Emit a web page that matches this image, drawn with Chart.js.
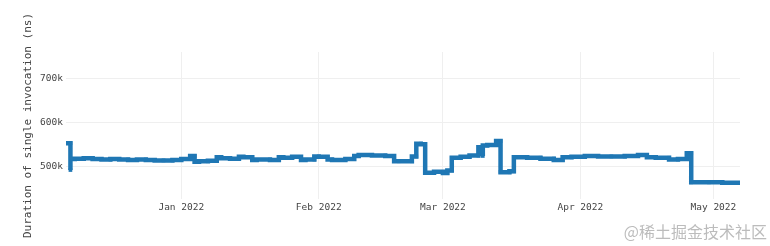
<!DOCTYPE html>
<html>
<head>
<meta charset="utf-8">
<script src="https://cdn.jsdelivr.net/npm/chart.js@4.4.1/dist/chart.umd.min.js"></script>
<style>
  html, body { margin: 0; padding: 0; background: #fff; }
  canvas { display: block; }
</style>
</head>
<body>
<canvas id="line-canvas" width="770" height="246"></canvas>
<script>
// measurement dates (repeated dates = a jump on that day)
var dates = [
  '2021-12-06','2021-12-07','2021-12-07','2021-12-08','2021-12-10','2021-12-12','2021-12-14',
  '2021-12-16','2021-12-18','2021-12-20','2021-12-22','2021-12-24','2021-12-26','2021-12-28',
  '2021-12-30','2022-01-01','2022-01-03','2022-01-04','2022-01-05','2022-01-07','2022-01-09',
  '2022-01-10','2022-01-12','2022-01-14','2022-01-15','2022-01-17','2022-01-18','2022-01-21',
  '2022-01-23','2022-01-24','2022-01-26','2022-01-28','2022-01-29','2022-01-31','2022-02-01',
  '2022-02-03','2022-02-04','2022-02-07','2022-02-09','2022-02-10','2022-02-13','2022-02-16',
  '2022-02-18','2022-02-19','2022-02-22','2022-02-23','2022-02-24','2022-02-25','2022-02-25',
  '2022-02-27','2022-03-01','2022-03-02','2022-03-03','2022-03-03','2022-03-05','2022-03-07',
  '2022-03-09','2022-03-10','2022-03-10','2022-03-11','2022-03-13','2022-03-14','2022-03-14',
  '2022-03-16','2022-03-17','2022-03-17','2022-03-20','2022-03-23','2022-03-26','2022-03-28',
  '2022-03-30','2022-04-02','2022-04-05','2022-04-08','2022-04-11','2022-04-14','2022-04-16',
  '2022-04-18','2022-04-21','2022-04-23','2022-04-25','2022-04-25','2022-04-26','2022-04-26',
  '2022-04-30','2022-05-03','2022-05-07'
];
// duration of single invocation, ns
var durations = [
  552000,552000,491000,516000,517000,518000,516000,
  515000,516000,515000,514000,515000,514000,513000,
  513000,514000,516000,523000,510000,511000,512000,
  520000,518000,517000,521000,520000,514000,515000,
  514000,520000,519000,521000,514000,515000,522000,
  521000,515000,514000,516000,523000,525000,524000,
  523000,511000,511000,522000,551000,550000,489000,
  485000,487000,484000,490000,518000,519000,521000,
  524000,543000,523000,547000,548000,557000,487000,
  486000,488000,519000,520000,519000,517000,514000,
  520000,521000,523000,522000,522000,523000,525000,
  520000,519000,515000,516000,529000,529000,463000,
  463000,463000,462000
];

var xTickDates = ['2022-01-01','2022-02-01','2022-03-01','2022-04-01','2022-05-01'];
var xTickLabels = ['Jan 2022','Feb 2022','Mar 2022','Apr 2022','May 2022'];
var yTicks = [500000, 600000, 700000];

function toMs(d) { return Date.parse(d + 'T00:00:00Z'); }

var points = [];
for (var i = 0; i < dates.length; i++) {
  points.push({ x: toMs(dates[i]), y: durations[i] });
}
var xTickValues = xTickDates.map(toMs);

var watermark = {
  id: 'watermark',
  afterDraw: function(chart) {
    var c = chart.ctx;
    c.save();
    c.font = '16px "Noto Sans CJK SC", sans-serif';
    c.fillStyle = '#bcbcbc';
    c.textAlign = 'right';
    c.textBaseline = 'middle';
    c.fillText('@稀土掘金技术社区', 767, 232);
    c.restore();
  }
};

var ctx = document.getElementById('line-canvas');
var chart = new Chart(ctx, {
  type: 'line',
  data: {
    datasets: [{
      label: 'duration',
      data: points,
      borderColor: '#1f77b4',
      backgroundColor: '#1f77b4',
      borderWidth: 4.5,
      pointRadius: 2.6,
      pointStyle: 'rect',
      pointBorderWidth: 0,
      stepped: 'after',
      fill: false
    }]
  },
  plugins: [watermark],
  options: {
    responsive: false,
    animation: false,
    layout: { padding: { left: 0, right: 30, top: 52, bottom: 0 } },
    plugins: { legend: { display: false }, tooltip: { enabled: false } },
    scales: {
      x: {
        type: 'linear',
        min: toMs('2021-12-06'),
        max: toMs('2022-05-07'),
        afterBuildTicks: function(scale) {
          scale.ticks = xTickValues.map(function(v) { return { value: v }; });
        },
        afterFit: function(scale) { scale.height = 47; },
        grid: { color: '#efefef', drawTicks: false },
        border: { display: false },
        ticks: {
          padding: 3,
          maxRotation: 0,
          autoSkip: false,
          color: '#444',
          font: { family: '"DejaVu Sans Mono", monospace', size: 9.5 },
          callback: function(v) {
            var k = xTickValues.indexOf(v);
            return k >= 0 ? xTickLabels[k] : '';
          }
        }
      },
      y: {
        min: 425000,
        max: 760000,
        afterBuildTicks: function(scale) {
          scale.ticks = yTicks.map(function(v) { return { value: v }; });
        },
        afterFit: function(scale) { scale.width = 66; },
        grid: { color: '#efefef', drawTicks: false },
        border: { display: false },
        ticks: {
          padding: 3,
          color: '#444',
          font: { family: '"DejaVu Sans Mono", monospace', size: 9.5 },
          callback: function(v) { return (v / 1000) + 'k'; }
        },
        title: {
          display: true,
          text: 'Duration of single invocation (ns)',
          color: '#444',
          padding: { top: 22, bottom: 0 },
          font: { family: '"DejaVu Sans Mono", monospace', size: 11 }
        }
      }
    }
  }
});
</script>
</body>
</html>
